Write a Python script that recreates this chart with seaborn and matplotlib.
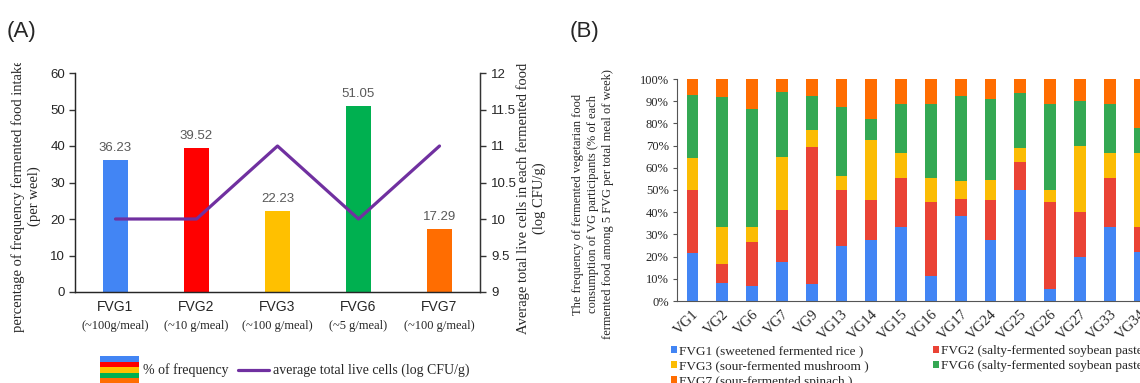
import numpy as np
import matplotlib.pyplot as plt
import seaborn as sns
from matplotlib.patches import Rectangle
from matplotlib.lines import Line2D
from matplotlib.legend_handler import HandlerBase
from matplotlib.ticker import FuncFormatter, PercentFormatter, MultipleLocator
from matplotlib.transforms import Bbox, TransformedBbox

# ---- panel A data
foods = ['FVG1', 'FVG2', 'FVG3', 'FVG6', 'FVG7']
portions = ['(~100g/meal)', '(~10 g/meal)', '(~100 g/meal)', '(~5 g/meal)', '(~100 g/meal)']
freq_pct = [36.23, 39.52, 22.23, 51.05, 17.29]
live_cells = [10, 10, 11, 10, 11]
colors_a = ['#4285F4', '#FF0000', '#FFC000', '#00B050', '#FF6D01']

# ---- panel B data (% of each FVG per participant)
participants = ['VG1', 'VG2', 'VG6', 'VG7', 'VG9', 'VG13', 'VG14', 'VG15',
                'VG16', 'VG17', 'VG24', 'VG25', 'VG26', 'VG27', 'VG33', 'VG34']
fvg1 = [21.4, 8.3, 6.7, 17.6, 7.7, 25.0, 27.3, 33.3, 11.1, 38.5, 27.3, 50.0, 5.6, 20.0, 33.3, 22.2]
fvg2 = [28.6, 8.3, 20.0, 23.5, 61.5, 25.0, 18.2, 22.2, 33.3, 7.7, 18.2, 12.5, 38.9, 20.0, 22.2, 11.1]
fvg3 = [14.3, 16.7, 6.7, 23.5, 7.7, 6.25, 27.3, 11.1, 11.1, 7.7, 9.1, 6.25, 5.6, 30.0, 11.1, 33.3]
fvg6 = [28.6, 58.3, 53.3, 29.4, 15.4, 31.25, 9.1, 22.2, 33.3, 38.5, 36.4, 25.0, 38.9, 20.0, 22.2, 11.1]
fvg7 = [7.1, 8.3, 13.3, 5.9, 7.7, 12.5, 18.2, 11.1, 11.1, 7.7, 9.1, 6.25, 11.1, 10.0, 11.1, 22.2]
labels_b = ['FVG1 (sweetened fermented rice )', 'FVG2 (salty-fermented soybean paste)',
            'FVG3 (sour-fermented mushroom )', 'FVG6 (salty-fermented soybean paste )',
            'FVG7 (sour-fermented spinach )']
colors_b = ['#4285F4', '#EA4335', '#FBBC04', '#34A853', '#FF6D01']

sns.set_style('ticks')
serif = 'Liberation Serif'
sans = 'Liberation Sans'
plt.rcParams['font.family'] = [sans, 'DejaVu Sans']

W, H = 1140, 383
fig = plt.figure(figsize=(W / 100, H / 100), dpi=100)

# ================= panel A
ax = fig.add_axes([75 / W, 91 / H, 405 / W, 219 / H])
sns.barplot(x=foods, y=freq_pct, hue=foods, palette=colors_a, width=0.31,
            saturation=1, linewidth=0, errorbar=None, legend=False, ax=ax)
for c in ax.containers:
    ax.bar_label(c, fmt='{:.2f}', padding=4, color='#595959', fontsize=9.5, family=sans)
ax.set_xlim(-0.5, 4.5)
ax.set_ylim(0, 60)
ax.yaxis.set_major_locator(MultipleLocator(10))
ax.set_xticks(range(len(foods)))
ax.set_xticklabels(foods, fontsize=10, family=sans)
ax.tick_params(axis='x', length=0, pad=6)
ax.tick_params(axis='y', labelsize=9.5, length=4, width=1, color='#333333', pad=3)
ax.set_xlabel('')
ax.set_ylabel('')
for i, p in enumerate(portions):
    ax.text(i, -0.155, p, transform=ax.get_xaxis_transform(), ha='center', va='center',
            fontsize=9, family=serif)
ax.spines['top'].set_visible(False)
for s in ['left', 'bottom', 'right']:
    ax.spines[s].set_color('#333333')
    ax.spines[s].set_linewidth(1)

ax2 = ax.twinx()
sns.lineplot(x=range(len(foods)), y=live_cells, color='#7030A0', linewidth=2.3, ax=ax2)
ax2.set_ylim(9, 12)
ax2.yaxis.set_major_locator(MultipleLocator(0.5))
ax2.yaxis.set_major_formatter(FuncFormatter(lambda v, _: f'{v:g}'))
ax2.tick_params(axis='y', labelsize=9.5, length=4, width=1, color='#333333', pad=4)
ax2.set_ylabel('')
ax2.spines['top'].set_visible(False)
ax2.spines['right'].set_color('#333333')

lab = fig.text(26 / W, 1 - 196 / H, 'percentage of frequency fermented food intake\n(per weel)',
               rotation=90, ha='center', va='center', multialignment='center',
               fontsize=10.5, family=serif, linespacing=1.25)
lab.set_clip_box(TransformedBbox(Bbox([[0, 0], [1, 1 - 63 / H]]), fig.transFigure))
lab.set_clip_on(True)
fig.text(531 / W, 1 - 198 / H, 'Average total live cells in each fermented food\n(log CFU/g)',
         rotation=90, ha='center', va='center', multialignment='center',
         fontsize=10.5, family=serif, linespacing=1.25)
fig.text(7 / W, 1 - 32 / H, '(A)', fontsize=16, va='center', family=sans)
fig.text(570 / W, 1 - 32 / H, '(B)', fontsize=16, va='center', family=sans)


class StackHandler(HandlerBase):
    def create_artists(self, legend, orig_handle, xdescent, ydescent, width, height, fontsize, trans):
        n = len(colors_a)
        h = height / n
        return [Rectangle((-xdescent, -ydescent + (n - 1 - i) * h), width, h,
                          facecolor=c, edgecolor='none', transform=trans)
                for i, c in enumerate(colors_a)]


class ShortLineHandler(HandlerBase):
    def create_artists(self, legend, orig_handle, xdescent, ydescent, width, height, fontsize, trans):
        y = height / 2 - ydescent
        return [Line2D([-xdescent + 0.2 * width, -xdescent + width], [y, y],
                       color='#7030A0', linewidth=2.3, transform=trans)]


stack_proxy = Rectangle((0, 0), 1, 1)
line_proxy = Line2D([0], [0])
fig.legend([stack_proxy, line_proxy], ['% of frequency', 'average total live cells (log CFU/g)'],
           handler_map={stack_proxy: StackHandler(), line_proxy: ShortLineHandler()},
           ncol=2, loc='center left', bbox_to_anchor=(100 / W, 1 - 370 / H),
           frameon=False, handlelength=2.8, handleheight=2.7, handletextpad=0.3,
           columnspacing=0.1, borderpad=0, borderaxespad=0,
           prop={'family': serif, 'size': 10})

# ================= panel B
axb = fig.add_axes([677 / W, 82 / H, 481 / W, 222 / H])
series = np.array([fvg1, fvg2, fvg3, fvg6, fvg7])
cum = np.cumsum(series, axis=0)
cum = cum / cum[-1] * 100
for i in range(len(series) - 1, -1, -1):
    sns.barplot(x=participants, y=cum[i], color=colors_b[i], width=0.4, saturation=1,
                linewidth=0, errorbar=None, ax=axb)
axb.set_xlim(-0.52, 15.62)
axb.set_ylim(0, 100)
axb.yaxis.set_major_locator(MultipleLocator(10))
axb.yaxis.set_major_formatter(PercentFormatter(decimals=0))
axb.set_xticks(range(len(participants)))
axb.set_xticklabels(participants, rotation=45, ha='right', rotation_mode='anchor',
                    fontsize=10.5, family=serif)
for t in axb.get_yticklabels():
    t.set_family(serif)
axb.tick_params(axis='x', length=0, pad=5)
axb.tick_params(axis='y', labelsize=9, length=3, width=0.8, color='#555555', pad=3)
axb.set_xlabel('')
axb.set_ylabel('')
sns.despine(ax=axb)
axb.spines['left'].set_color('#555555')
axb.spines['bottom'].set_color('#555555')

fig.text(593 / W, 1 - 204 / H,
         'The frequency of fermented vegetarian food\nconsumption of VG participants (% of each\n'
         'fermented food among 5 FVG per total meal of week)',
         rotation=90, ha='center', va='center', multialignment='center',
         fontsize=9, family=serif, linespacing=1.3)

patches = [Rectangle((0, 0), 1, 1, facecolor=c, edgecolor='none') for c in colors_b]
order = [0, 2, 4, 1, 3]
fig.legend([patches[k] for k in order], [labels_b[k] for k in order],
           ncol=2, loc='upper left', bbox_to_anchor=(671 / W, 1 - 345 / H),
           frameon=False, handlelength=0.45, handleheight=0.45, handletextpad=0.15,
           columnspacing=4.9, labelspacing=0.25, borderpad=0, borderaxespad=0,
           prop={'family': serif, 'size': 9.5})

fig.savefig('out.png', dpi=100)
